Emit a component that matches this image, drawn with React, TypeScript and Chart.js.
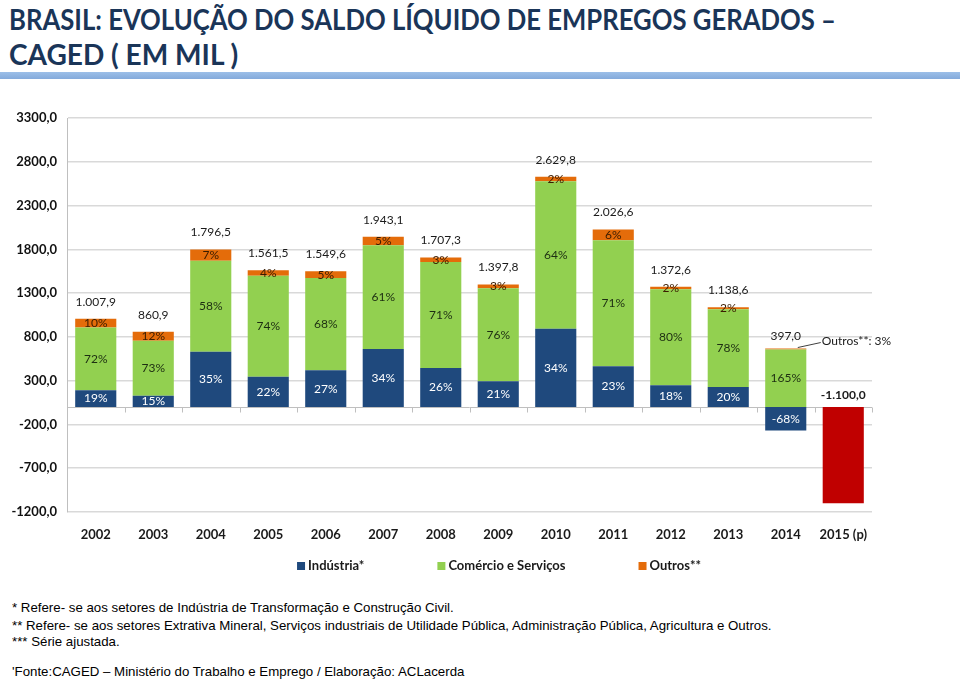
import React, { useEffect, useRef, useMemo } from "react";
import { Chart, registerables } from "chart.js";

Chart.register(...registerables);

// ---------------- data ----------------
const years = ["2002", "2003", "2004", "2005", "2006", "2007", "2008", "2009", "2010", "2011", "2012", "2013", "2014", "2015 (p)"];
const industria = [190, 129, 629, 344, 418, 661, 444, 294, 894, 466, 247, 228, -270, null];
const comercio = [718, 628, 1042, 1155, 1054, 1185, 1212, 1062, 1683, 1439, 1098, 888, 655, null];
const outros = [100, 103, 126, 62, 78, 97, 51, 42, 53, 122, 27, 23, 12, null];
const saldo2015 = [null, null, null, null, null, null, null, null, null, null, null, null, null, -1100];
const totals = [1007.9, 860.9, 1796.5, 1561.5, 1549.6, 1943.1, 1707.3, 1397.8, 2629.8, 2026.6, 1372.6, 1138.6, 397.0, -1100.0];
const pctIndustria = [19, 15, 35, 22, 27, 34, 26, 21, 34, 23, 18, 20, -68, null];
const pctComercio = [72, 73, 58, 74, 68, 61, 71, 76, 64, 71, 80, 78, 165, null];
const pctOutros = [10, 12, 7, 4, 5, 5, 3, 3, 2, 6, 2, 2, 3, null];
const seriesNames = ["Indústria*", "Comércio e Serviços", "Outros**", "2015"];
const yMin = -1200;
const yMax = 3300;
const yStep = 500;

const titleLines = ["BRASIL: EVOLUÇÃO DO SALDO LÍQUIDO DE EMPREGOS GERADOS –", "CAGED ( EM MIL )"];
const footnotes = [
  "* Refere- se aos setores de Indústria de Transformação e Construção Civil.",
  "** Refere- se aos setores Extrativa Mineral, Serviços industriais de Utilidade Pública, Administração Pública, Agricultura e Outros.",
  "*** Série ajustada.",
  "'Fonte:CAGED – Ministério do Trabalho e Emprego / Elaboração: ACLacerda",
];

// ---------------- styles ----------------
const COLORS = ["#1f497d", "#92d050", "#e46c0a", "#c00000"];
const LABEL_COLORS = ["#ffffff", "#1d2e12", "#3a1c00"];
const FONT = "Lato";

function fmtBR(v: number): string {
  const neg = v < 0;
  const a = Math.abs(v);
  let int = Math.floor(a);
  let dec = Math.round((a - int) * 10);
  if (dec === 10) { int += 1; dec = 0; }
  const s = String(int).replace(/\B(?=(\d{3})+(?!\d))/g, ".");
  return (neg ? "-" : "") + s + "," + dec;
}

function measure(text: string, font: string): number {
  const c = document.createElement("canvas").getContext("2d");
  if (!c) return 1;
  c.font = font;
  return c.measureText(text).width;
}

const decorPlugin = {
  id: "decor",
  beforeDatasetsDraw(chart: any) {
    const { ctx, chartArea } = chart;
    const y = chart.scales.y;
    const zero = Math.round(y.getPixelForValue(0)) + 0.5;
    ctx.save();
    ctx.strokeStyle = "#bfbfbf";
    ctx.lineWidth = 1;
    ctx.beginPath();
    ctx.moveTo(chartArea.left, zero);
    ctx.lineTo(chartArea.right, zero);
    const n = years.length;
    const w = (chartArea.right - chartArea.left) / n;
    for (let i = 1; i <= n; i++) {
      const x = Math.round(chartArea.left + i * w) + 0.5;
      ctx.moveTo(x, zero);
      ctx.lineTo(x, zero + 5);
    }
    ctx.stroke();
    ctx.restore();
  },
  afterDatasetsDraw(chart: any) {
    const { ctx } = chart;
    const y = chart.scales.y;
    const pcts = [pctIndustria, pctComercio, pctOutros];
    ctx.save();
    ctx.textAlign = "center";
    ctx.textBaseline = "middle";
    ctx.font = `12px ${FONT}`;
    for (let d = 0; d < 3; d++) {
      const meta = chart.getDatasetMeta(d);
      meta.data.forEach((el: any, i: number) => {
        const p = pcts[d][i];
        if (p == null) return;
        if (d === 2 && i === 12) return;
        const props = el.getProps(["x", "y", "base"], true);
        ctx.fillStyle = LABEL_COLORS[d];
        ctx.fillText(p + "%", props.x, (props.y + props.base) / 2);
      });
    }
    // totals
    const meta0 = chart.getDatasetMeta(0);
    ctx.fillStyle = "#1a1a1a";
    for (let i = 0; i < years.length; i++) {
      const el = meta0.data[i] || chart.getDatasetMeta(3).data[i];
      const cx = el.getProps(["x"], true).x;
      if (totals[i] < 0 && i === years.length - 1) {
        ctx.font = `bold 12px ${FONT}`;
        ctx.fillText(fmtBR(totals[i]), cx, y.getPixelForValue(0) - 12);
        continue;
      }
      let pos = 0;
      [industria, comercio, outros].forEach((arr) => {
        const v = arr[i];
        if (v != null && v > 0) pos += v;
      });
      const top = y.getPixelForValue(pos);
      ctx.font = `12px ${FONT}`;
      if (i === 12) {
        ctx.fillText(fmtBR(totals[i]), cx, top - 12);
        ctx.strokeStyle = "#404040";
        ctx.lineWidth = 1;
        ctx.beginPath();
        ctx.moveTo(cx + 12, top - 1);
        ctx.lineTo(cx + 35, top - 6);
        ctx.stroke();
        ctx.textAlign = "left";
        ctx.fillText("Outros**: " + pctOutros[i] + "%", cx + 36, top - 7);
        ctx.textAlign = "center";
      } else {
        ctx.fillText(fmtBR(totals[i]), cx, top - 17);
      }
    }
    ctx.restore();
  },
  afterDraw(chart: any) {
    // legend
    const { ctx, chartArea } = chart;
    ctx.save();
    ctx.font = `bold 13px ${FONT}`;
    ctx.textBaseline = "middle";
    ctx.textAlign = "left";
    const box = 8;
    const gapText = 3;
    const gapItem = 73;
    const items = [0, 1, 2].map((d) => {
      const label = chart.data.datasets[d].label as string;
      return { label, color: chart.data.datasets[d].backgroundColor as string, w: box + gapText + ctx.measureText(label).width };
    });
    const total = items.reduce((s, it) => s + it.w, 0) + gapItem * (items.length - 1);
    let x = 499 - total / 2;
    const yc = chartArea.bottom + 54;
    items.forEach((it) => {
      ctx.fillStyle = it.color;
      ctx.fillRect(x, yc - 4, box, box);
      ctx.fillStyle = "#1a1a1a";
      ctx.fillText(it.label, x + box + gapText, yc);
      x += it.w + gapItem;
    });
    ctx.restore();
  },
};

function ChartView() {
  const ref = useRef<HTMLCanvasElement | null>(null);
  useEffect(() => {
    if (!ref.current) return;
    const chart = new Chart(ref.current, {
      type: "bar",
      data: {
        labels: years,
        datasets: [
          { label: seriesNames[0], data: industria, backgroundColor: COLORS[0] },
          { label: seriesNames[1], data: comercio, backgroundColor: COLORS[1] },
          { label: seriesNames[2], data: outros, backgroundColor: COLORS[2] },
          { label: seriesNames[3], data: saldo2015, backgroundColor: COLORS[3] },
        ] as any,
      },
      options: {
        responsive: false,
        animation: false,
        datasets: { bar: { barPercentage: 0.715, categoryPercentage: 1 } },
        layout: { padding: { top: 18, right: 88, bottom: 47, left: 0 } },
        plugins: { legend: { display: false }, tooltip: { enabled: false } },
        scales: {
          x: {
            stacked: true,
            grid: { display: false, drawTicks: false },
            border: { display: false },
            ticks: { font: { family: FONT, size: 13, weight: "bold" }, color: "#1a1a1a", padding: 15, maxRotation: 0, autoSkip: false },
            afterFit: (s: any) => { s.height = 31; },
          },
          y: {
            stacked: true,
            min: yMin,
            max: yMax,
            ticks: {
              stepSize: yStep,
              callback: (v: any) => Number(v).toFixed(1).replace(".", ","),
              font: { family: FONT, size: 13, weight: "bold" },
              color: "#111111",
              padding: 10,
            },
            grid: { color: "#d9d9d9", lineWidth: 1.5, drawTicks: false },
            border: { display: true, color: "#bfbfbf", width: 1 },
            afterFit: (s: any) => { s.width = 67; },
          },
        },
      } as any,
      plugins: [decorPlugin],
    });
    return () => chart.destroy();
  }, []);
  return <canvas ref={ref} width={960} height={490} style={{ position: "absolute", left: 0, top: 100, width: 960, height: 490, display: "block" }} />;
}

export default function App() {
  const titleFont = `bold 28px ${FONT}`;
  const noteFont = `13px "Liberation Sans"`;
  const scales = useMemo(() => {
    const t1 = 827 / measure(titleLines[0], titleFont);
    const t2 = 230 / measure(titleLines[1], titleFont);
    const n = 761 / measure(footnotes[1], noteFont);
    return { t: [t1, t2], n };
  }, []);
  const titleTops = [2.5, 37.5];
  const noteTops = [600, 618, 634, 664];
  return (
    <div style={{ position: "absolute", left: 0, top: 0, width: 960, height: 681, overflow: "hidden", background: "#ffffff" }}>
      {titleLines.map((line, i) => (
        <div
          key={i}
          style={{
            position: "absolute",
            left: 9,
            top: titleTops[i],
            font: titleFont,
            lineHeight: "33.6px",
            color: "#1a3558",
            whiteSpace: "nowrap",
            transform: `scaleX(${scales.t[i]})`,
            transformOrigin: "left top",
          }}
        >
          {line}
        </div>
      ))}
      <div style={{ position: "absolute", left: 0, top: 72, width: 960, height: 7, background: "linear-gradient(#9cbfe8, #84aadb)" }} />
      <ChartView />
      {footnotes.map((line, i) => (
        <div
          key={i}
          style={{
            position: "absolute",
            left: 12,
            top: noteTops[i],
            font: noteFont,
            lineHeight: "15px",
            color: "#000000",
            whiteSpace: "nowrap",
            transform: `scaleX(${scales.n})`,
            transformOrigin: "left top",
          }}
        >
          {line}
        </div>
      ))}
    </div>
  );
}
